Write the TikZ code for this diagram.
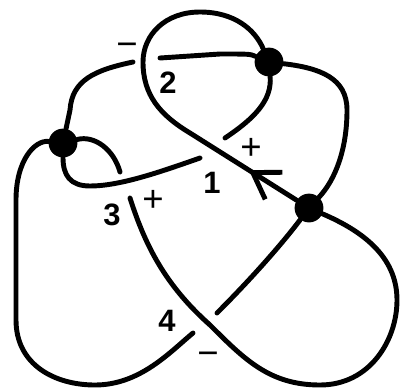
\documentclass[tikz,border=0pt]{standalone}
\usepackage{fontspec}
\setmainfont{Liberation Sans}
\usetikzlibrary{arrows.meta,decorations.markings}

\begin{document}
\begin{tikzpicture}[x=0.025cm, y=-0.025cm,
  strand/.style={line width=3.5pt, line cap=round},
  vtx/.style={circle, fill=black, minimum size=0.72cm, inner sep=0pt},
  num/.style={font=\fontsize{22}{24}\selectfont\bfseries, inner sep=0pt},
  sgn/.style={font=\fontsize{26}{28}\selectfont, inner sep=0pt},
  arrowmark/.style={postaction={decorate}, decoration={markings,
    mark=at position #1 with {\arrowreversed{Straight Barb[length=6.2mm,width=8mm]}}}}]
\useasboundingbox (0,0) rectangle (400,389);
% vertices
\node[vtx] (v1) at (63,143) {};
\node[vtx] (v2) at (269,62) {};
\node[vtx] (v3) at (309,208) {};
% ends of the under strands
\coordinate (c1a) at (225,138);
\coordinate (c1b) at (200,158);
\coordinate (c2a) at (160,58);
\coordinate (c2b) at (133,62);
\coordinate (c3a) at (120,172);
\coordinate (c3b) at (130,198);
\coordinate (c4a) at (193,333);
\coordinate (c4b) at (217,313);
% strands
\draw[strand, arrowmark=-1.4cm] (v2) .. controls (255,30) and (235,12) .. (200,12)
  .. controls (165,12) and (143,35) .. (143,62)
  .. controls (143,95) and (160,115) .. (190,133) -- (v3);
\draw[strand] (v2) .. controls (250,54) .. (220,54) -- (c2a);
\draw[strand] (c2b) .. controls (95,70) and (72,80) .. (70,110) -- (v1);
\draw[strand] (v2) .. controls (272,100) and (255,118) .. (c1a);
\draw[strand] (c1b) .. controls (160,172) and (120,186) .. (90,186)
  .. controls (70,186) and (63,175) .. (v1);
\draw[strand] (v2) .. controls (320,68) and (347,78) .. (347,110)
  .. controls (347,150) and (335,180) .. (v3);
\draw[strand] (v1) .. controls (95,135) and (114,150) .. (c3a);
\draw[strand] (c3b) .. controls (145,245) and (165,285) .. (210,325)
  .. controls (245,360) and (270,385) .. (320,385)
  .. controls (370,385) and (397,340) .. (397,300)
  .. controls (397,255) and (360,230) .. (v3);
\draw[strand] (v1) .. controls (35,140) and (16,160) .. (16,200) -- (16,320)
  .. controls (16,365) and (55,385) .. (95,385)
  .. controls (140,385) and (170,352) .. (c4a);
\draw[strand] (c4b) .. controls (255,275) and (285,240) .. (v3);
% crossing labels
\node[num] (n1) at (212,183) {1};
\node[num] (n2) at (168,83) {2};
\node[num] (n3) at (112,215) {3};
\node[num] (n4) at (167,321) {4};
\node[sgn] (s1) at (251,149) {+};
\node[sgn, anchor=base] (s2) at (127,56) {−};
\node[sgn] (s3) at (153,201) {+};
\node[sgn, anchor=base] (s4) at (208,365) {−};
\end{tikzpicture}
\end{document}
